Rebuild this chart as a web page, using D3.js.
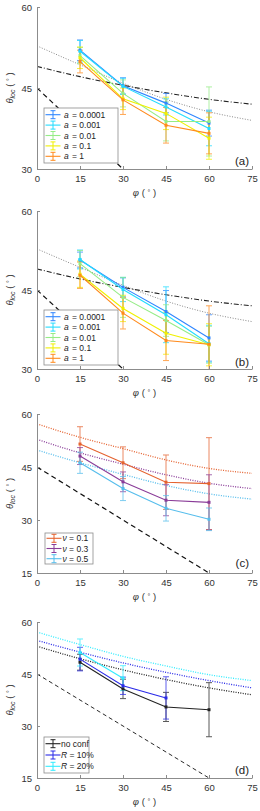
<!DOCTYPE html>
<html>
<head>
<meta charset="utf-8">
<script src="https://cdn.jsdelivr.net/npm/d3@7"></script>
<style>
  body { margin: 0; background: #fff; }
  svg text { font-family: "Liberation Sans", Arial, sans-serif; }
</style>
</head>
<body>
<div id="chart"></div>
<script>
// ---- data ----
var phi = [15, 30, 45, 60];
var curvePhi = [0, 15, 30, 45, 60, 75];
var xTicks = [0, 15, 30, 45, 60, 75];
var lineRef = [[0, 45], [60, 15]];   // dashed reference line

// panels (a) and (b): a = 0.0001 ... 1
var aLabels = ["0.0001", "0.001", "0.01", "0.1", "1"];
var aColors = ["#2f86ff", "#22dcff", "#95ec86", "#f0f000", "#ff8a1c"];
var aMeansA = [[52.0, 45.4, 42.2, 38.5], [51.8, 45.3, 41.5, 37.5], [51.0, 44.0, 38.8, 38.8], [50.6, 43.0, 40.3, 35.7], [49.9, 42.8, 38.1, 36.6]];
var aErrA   = [[1.9, 1.5, 1.8, 2.4], [2.0, 1.5, 1.5, 3.2], [1.5, 2.5, 3.6, 6.4], [2.0, 2.0, 3.0, 3.9], [2.1, 2.7, 3.3, 3.8]];
var aMeansB = [[50.7, 45.5, 40.9, 35.9], [50.8, 45.1, 40.3, 34.8], [50.0, 43.6, 39.2, 34.6], [48.0, 41.5, 36.8, 34.6], [47.8, 40.6, 35.4, 34.7]];
var aErrB   = [[1.5, 1.8, 4.0, 4.4], [1.8, 2.3, 5.3, 3.5], [2.5, 3.8, 3.0, 3.5], [2.5, 2.5, 4.0, 4.0], [2.5, 3.0, 3.8, 7.3]];
var grayDotted = [52.8, 49.3, 45.9, 42.9, 40.6, 39.0];
var dashDot    = [49.0, 47.1, 45.5, 44.1, 42.9, 42.0];

// panel (c): nu
var nuLabels = ["0.1", "0.3", "0.5"];
var nuColors = ["#e5622f", "#8a3c98", "#55bdec"];
var nuMeans = [[51.5, 46.2, 40.7, 40.3], [48.1, 40.8, 35.6, 35.0], [46.2, 38.9, 33.3, 30.2]];
var nuErr   = [[4.9, 4.5, 7.7, 13.0], [2.4, 2.8, 4.4, 7.8], [3.0, 3.4, 3.6, 3.2]];
var nuCurves = [[57.2, 53.4, 50.2, 47.0, 44.6, 43.2], [52.8, 49.0, 45.8, 42.8, 40.4, 38.9], [49.8, 46.2, 42.9, 39.8, 37.4, 35.9]];

// panel (d): confinement
var rLabels = ["no conf", "10%", "20%"];
var rColors = ["#222222", "#2a2ae8", "#30ecff"];
var rMeans = [[48.4, 40.7, 35.5, 34.7], [49.3, 41.6, 38.1], [51.2, 43.8]];
var rErr   = [[2.3, 2.8, 4.2, 7.8], [3.4, 2.5, 6.1], [3.9, 3.6]];
var rCurves = [[53.0, 49.4, 46.2, 43.4, 41.0, 39.0], [54.7, 51.3, 48.2, 45.5, 43.1, 41.0], [57.1, 53.5, 50.1, 47.3, 44.8, 43.1]];

var W = 260, H = 811;
var svg = d3.select("#chart").append("svg")
    .attr("width", W).attr("height", H);

var x = d3.scaleLinear().domain([0, 75]).range([37, 252]);

function buildSeries(means, errs, colors, labels) {
    return means.map(function(m, i) {
        return {
            color: colors[i], label: labels[i],
            pts: m.map(function(v, j) { return { x: phi[j], y: v, e: errs[i][j] }; })
        };
    });
}

var panels = [
    { id: "a", top: 7, bottom: 169, yDom: [30, 60], yTicks: [30, 45, 60],
      series: buildSeries(aMeansA, aErrA, aColors, aLabels),
      curves: [{ v: grayDotted, color: "#8a8a8a", dash: "1,1.6", w: 1 }, { v: dashDot, color: "#222", dash: "5,2,1,2", w: 1.1 }],
      legend: { x: 44, y: 108, w: 74, h: 55, row: 10.4, kind: "a" }, tagY: 165 },
    { id: "b", top: 211, bottom: 369, yDom: [30, 60], yTicks: [30, 45, 60],
      series: buildSeries(aMeansB, aErrB, aColors, aLabels),
      curves: [{ v: grayDotted, color: "#8a8a8a", dash: "1,1.6", w: 1 }, { v: dashDot, color: "#222", dash: "5,2,1,2", w: 1.1 }],
      legend: { x: 44, y: 310, w: 74, h: 55, row: 10.4, kind: "a" }, tagY: 366 },
    { id: "c", top: 414, bottom: 573, yDom: [15, 60], yTicks: [15, 30, 45, 60],
      series: buildSeries(nuMeans, nuErr, nuColors, nuLabels),
      curves: nuCurves.map(function(v, i) { return { v: v, color: nuColors[i], dash: "1,1.4", w: 1.3 }; }),
      legend: { x: 45, y: 533, w: 48, h: 31, row: 10.2, kind: "nu" }, tagY: 567 },
    { id: "d", top: 622, bottom: 778, yDom: [15, 60], yTicks: [15, 30, 45, 60],
      series: buildSeries(rMeans, rErr, rColors, rLabels),
      curves: rCurves.map(function(v, i) { return { v: v, color: rColors[i], dash: "1,1.4", w: 1.3 }; }),
      legend: { x: 44, y: 737, w: 45, h: 36, row: 11.3, kind: "r" }, tagY: 774 }
];

panels.forEach(function(p) {
    var y = d3.scaleLinear().domain(p.yDom).range([p.bottom, p.top]);
    var g = svg.append("g").attr("class", "panel-" + p.id);

    g.append("clipPath").attr("id", "clip-" + p.id)
        .append("rect")
        .attr("x", x(0)).attr("y", p.top - 4)
        .attr("width", x(75) - x(0)).attr("height", p.bottom - p.top + 4);
    var plot = g.append("g").attr("clip-path", "url(#clip-" + p.id + ")");

    var line = d3.line().x(function(d) { return x(d[0]); }).y(function(d) { return y(d[1]); });
    var smooth = d3.line().curve(d3.curveMonotoneX)
        .x(function(d) { return x(d[0]); }).y(function(d) { return y(d[1]); });

    // dashed reference
    plot.append("path").datum(lineRef)
        .attr("d", line).attr("fill", "none")
        .attr("stroke", "#111").attr("stroke-width", p.id === "d" ? 0.9 : 1.2)
        .attr("stroke-dasharray", p.id === "d" ? "4,3" : "5,3.5");

    // model curves
    p.curves.forEach(function(c) {
        plot.append("path")
            .datum(curvePhi.map(function(px, i) { return [px, c.v[i]]; }))
            .attr("d", smooth).attr("fill", "none")
            .attr("stroke", c.color).attr("stroke-width", c.w)
            .attr("stroke-dasharray", c.dash);
    });

    // axes
    var yAxis = d3.axisLeft(y).tickValues(p.yTicks).tickSizeInner(-3).tickSizeOuter(0).tickPadding(5);
    var xAxis = d3.axisBottom(x).tickValues(xTicks).tickSizeInner(-3).tickSizeOuter(0).tickPadding(6);
    var ya = g.append("g").attr("transform", "translate(" + x(0) + ",0)").call(yAxis);
    var xa = g.append("g").attr("transform", "translate(0," + p.bottom + ")").call(xAxis);
    [ya, xa].forEach(function(a) {
        a.select(".domain").attr("stroke", "#8c8c8c");
        a.selectAll(".tick line").attr("stroke", "#8c8c8c");
        a.selectAll(".tick text").attr("fill", "#333").style("font-size", "9.5px")
            .style("font-family", "'Liberation Sans', Arial, sans-serif");
    });

    // series: error bars, lines, markers
    p.series.forEach(function(s) {
        var eb = plot.append("g").attr("stroke", s.color).attr("stroke-width", 1).attr("opacity", 0.75);
        s.pts.forEach(function(d) {
            var cx = x(d.x), y1 = y(d.y + d.e), y2 = y(d.y - d.e);
            eb.append("line").attr("x1", cx).attr("x2", cx).attr("y1", y1).attr("y2", y2);
            eb.append("line").attr("x1", cx - 3).attr("x2", cx + 3).attr("y1", y1).attr("y2", y1);
            eb.append("line").attr("x1", cx - 3).attr("x2", cx + 3).attr("y1", y2).attr("y2", y2);
        });
    });
    p.series.forEach(function(s) {
        plot.append("path").datum(s.pts.map(function(d) { return [d.x, d.y]; }))
            .attr("d", line).attr("fill", "none")
            .attr("stroke", s.color).attr("stroke-width", 1.1);
        plot.selectAll(null).data(s.pts).enter().append("rect")
            .attr("x", function(d) { return x(d.x) - 1.5; })
            .attr("y", function(d) { return y(d.y) - 1.5; })
            .attr("width", 3).attr("height", 3)
            .attr("fill", s.color);
    });

    // axis labels
    g.append("text")
        .attr("x", (x(0) + x(75)) / 2).attr("y", p.bottom + 27)
        .attr("text-anchor", "middle").attr("fill", "#333").style("font-size", "9.5px")
        .html('<tspan font-style="italic">φ</tspan>  ( <tspan font-size="7px" dy="-1">°</tspan><tspan dy="1"> )</tspan>');
    g.append("text")
        .attr("transform", "translate(13," + ((p.top + p.bottom) / 2) + ") rotate(-90)")
        .attr("text-anchor", "middle").attr("fill", "#333").style("font-size", "9.5px")
        .html('<tspan font-style="italic">θ</tspan><tspan font-style="italic" font-size="7px" dy="2">loc</tspan>' +
              '<tspan dy="-2">  ( </tspan><tspan font-size="7px" dy="-1">°</tspan><tspan dy="1"> )</tspan>');

    // panel tag
    g.append("text")
        .attr("x", 249).attr("y", p.tagY)
        .attr("text-anchor", "end").attr("fill", "#222").style("font-size", "11.5px")
        .text("(" + p.id + ")");

    // legend
    var L = p.legend;
    var lg = g.append("g").attr("transform", "translate(" + L.x + "," + L.y + ")");
    lg.append("rect").attr("width", L.w).attr("height", L.h)
        .attr("fill", "#fff").attr("stroke", "#8c8c8c").attr("stroke-width", 0.8);
    p.series.forEach(function(s, i) {
        var ry = L.h / 2 + (i - (p.series.length - 1) / 2) * L.row;
        var row = lg.append("g").attr("transform", "translate(0," + ry + ")");
        row.append("line").attr("x1", 1.5).attr("x2", 16.5).attr("y1", 0).attr("y2", 0)
            .attr("stroke", s.color).attr("stroke-width", 1.1);
        row.append("line").attr("x1", 9).attr("x2", 9).attr("y1", -4).attr("y2", 4)
            .attr("stroke", s.color).attr("stroke-width", 1);
        row.append("line").attr("x1", 6.5).attr("x2", 11.5).attr("y1", -4).attr("y2", -4)
            .attr("stroke", s.color).attr("stroke-width", 1);
        row.append("line").attr("x1", 6.5).attr("x2", 11.5).attr("y1", 4).attr("y2", 4)
            .attr("stroke", s.color).attr("stroke-width", 1);
        var t = row.append("text").attr("y", 3).attr("fill", "#222").style("font-size", "8.5px");
        if (L.kind === "a") {
            t.attr("x", 20).html('<tspan font-style="italic">a</tspan><tspan x="28">= ' + s.label + '</tspan>');
        } else if (L.kind === "nu") {
            t.attr("x", 17.5).html('<tspan font-style="italic">ν</tspan> = ' + s.label);
        } else {
            t.attr("x", 17);
            if (i === 0) t.text(s.label);
            else t.html('<tspan font-style="italic">R</tspan> = ' + s.label);
        }
    });
});
</script>
</body>
</html>
